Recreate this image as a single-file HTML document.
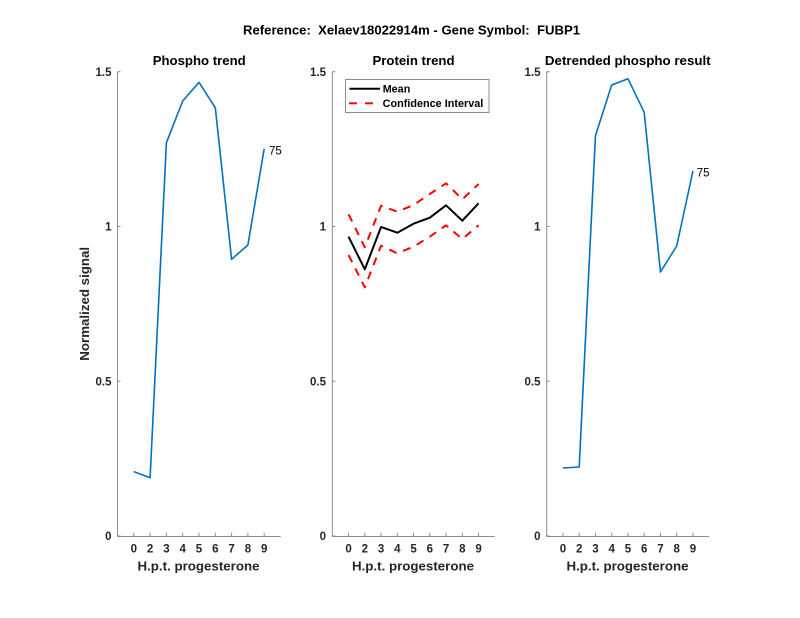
<!DOCTYPE html>
<html>
<head>
<meta charset="utf-8">
<style>
  html,body{margin:0;padding:0;background:#fff;}
  svg{display:block;}
  text{font-family:"Liberation Sans",Arial,sans-serif;}
  .tl{font-size:11.5px;font-weight:bold;fill:#262626;}
  .ttl{font-size:13.2px;font-weight:bold;fill:#000;}
  .xl{font-size:13.3px;font-weight:bold;fill:#262626;}
</style>
</head>
<body>
<svg width="800" height="618" viewBox="0 0 800 618" xmlns="http://www.w3.org/2000/svg">
  <rect width="800" height="618" fill="#fff"/>

  <!-- Main title -->
  <text x="411.5" y="34.5" text-anchor="middle" class="ttl" textLength="337" lengthAdjust="spacingAndGlyphs" xml:space="preserve">Reference:  Xelaev18022914m - Gene Symbol:  FUBP1</text>

  <!-- ============ LEFT PANEL ============ -->
  <g>
    <text x="199.2" y="65" text-anchor="middle" class="ttl" textLength="93" lengthAdjust="spacingAndGlyphs">Phospho trend</text>
    <!-- axes -->
    <path d="M117.5,71.7 V536.5 H280.7" fill="none" stroke="#8c8c8c" stroke-width="1"/>
    <!-- y ticks -->
    <path d="M117.5,536 h3 M117.5,381.2 h3 M117.5,226.5 h3 M117.5,71.7 h3" stroke="#8c8c8c" stroke-width="1"/>
    <!-- x ticks -->
    <path d="M133.8,536 v-3.3 M150.1,536 v-3.3 M166.4,536 v-3.3 M182.7,536 v-3.3 M199,536 v-3.3 M215.3,536 v-3.3 M231.6,536 v-3.3 M247.9,536 v-3.3 M264.2,536 v-3.3" stroke="#8c8c8c" stroke-width="1"/>
    <!-- y tick labels -->
    <text x="111.5" y="540.2" text-anchor="end" class="tl">0</text>
    <text x="111.5" y="385.4" text-anchor="end" class="tl">0.5</text>
    <text x="111.5" y="230.7" text-anchor="end" class="tl">1</text>
    <text x="111.5" y="75.9" text-anchor="end" class="tl">1.5</text>
    <!-- x tick labels -->
    <g class="tl" text-anchor="middle">
      <text x="133.8" y="552.5">0</text><text x="150.1" y="552.5">2</text><text x="166.4" y="552.5">3</text>
      <text x="182.7" y="552.5">4</text><text x="199" y="552.5">5</text><text x="215.3" y="552.5">6</text>
      <text x="231.6" y="552.5">7</text><text x="247.9" y="552.5">8</text><text x="264.2" y="552.5">9</text>
    </g>
    <text x="198.5" y="570.5" text-anchor="middle" class="xl" textLength="122" lengthAdjust="spacingAndGlyphs">H.p.t. progesterone</text>
    <!-- y label -->
    <text transform="translate(88.8,303.8) rotate(-90)" text-anchor="middle" class="xl">Normalized signal</text>
    <!-- series -->
    <polyline fill="none" stroke="#0072BD" stroke-width="1.6" stroke-linejoin="round"
      points="133.8,471.6 150.1,477.7 166.4,142.7 182.7,101 199,82.3 215.3,107.7 231.6,259.3 247.9,245 264.2,148.7"/>
    <text x="269" y="154.5" font-size="11.5" fill="#000">75</text>
  </g>

  <!-- ============ MIDDLE PANEL ============ -->
  <g>
    <text x="413.5" y="65" text-anchor="middle" class="ttl" textLength="82" lengthAdjust="spacingAndGlyphs">Protein trend</text>
    <path d="M332.3,71.7 V536.5 H494.7" fill="none" stroke="#8c8c8c" stroke-width="1"/>
    <path d="M332.3,536 h3 M332.3,381.2 h3 M332.3,226.5 h3 M332.3,71.7 h3" stroke="#8c8c8c" stroke-width="1"/>
    <path d="M348.55,536 v-3.3 M364.8,536 v-3.3 M381.05,536 v-3.3 M397.3,536 v-3.3 M413.55,536 v-3.3 M429.8,536 v-3.3 M446.05,536 v-3.3 M462.3,536 v-3.3 M478.55,536 v-3.3" stroke="#8c8c8c" stroke-width="1"/>
    <text x="326" y="540.2" text-anchor="end" class="tl">0</text>
    <text x="326" y="385.4" text-anchor="end" class="tl">0.5</text>
    <text x="326" y="230.7" text-anchor="end" class="tl">1</text>
    <text x="326" y="75.9" text-anchor="end" class="tl">1.5</text>
    <g class="tl" text-anchor="middle">
      <text x="348.55" y="552.5">0</text><text x="364.8" y="552.5">2</text><text x="381.05" y="552.5">3</text>
      <text x="397.3" y="552.5">4</text><text x="413.55" y="552.5">5</text><text x="429.8" y="552.5">6</text>
      <text x="446.05" y="552.5">7</text><text x="462.3" y="552.5">8</text><text x="478.55" y="552.5">9</text>
    </g>
    <text x="413" y="570.5" text-anchor="middle" class="xl" textLength="122" lengthAdjust="spacingAndGlyphs">H.p.t. progesterone</text>
    <!-- CI -->
    <polyline fill="none" stroke="#FF0000" stroke-width="2" stroke-dasharray="8,7" stroke-linejoin="round"
      points="348.55,214.3 364.8,247.3 381.05,205.7 397.3,211.7 413.55,205 429.8,194 446.05,183.3 462.3,199.3 478.55,184"/>
    <polyline fill="none" stroke="#FF0000" stroke-width="2" stroke-dasharray="8,7" stroke-linejoin="round"
      points="348.55,255 364.8,287.3 381.05,245.7 397.3,253.3 413.55,246.7 429.8,236.7 446.05,225.3 462.3,239 478.55,225.3"/>
    <!-- Mean -->
    <polyline fill="none" stroke="#000" stroke-width="2" stroke-linejoin="round"
      points="348.55,236.7 364.8,269.3 381.05,227 397.3,232.7 413.55,223.7 429.8,217.7 446.05,205.3 462.3,220.7 478.55,203.3"/>
    <!-- Legend -->
    <rect x="345.5" y="79.5" width="143.5" height="33" fill="#fff" stroke="#8c8c8c" stroke-width="1"/>
    <line x1="349.5" y1="88.7" x2="380" y2="88.7" stroke="#000" stroke-width="2"/>
    <line x1="349" y1="103.3" x2="357" y2="103.3" stroke="#FF0000" stroke-width="2"/>
    <line x1="365" y1="103.3" x2="373" y2="103.3" stroke="#FF0000" stroke-width="2"/>
    <text x="382.7" y="92.6" font-size="10.8" font-weight="bold" fill="#000">Mean</text>
    <text x="382.7" y="107.2" font-size="10.8" font-weight="bold" fill="#000" textLength="100.6" lengthAdjust="spacingAndGlyphs">Confidence Interval</text>
  </g>

  <!-- ============ RIGHT PANEL ============ -->
  <g>
    <text x="627.8" y="65" text-anchor="middle" class="ttl" textLength="165.7" lengthAdjust="spacingAndGlyphs">Detrended phospho result</text>
    <path d="M546.7,71.7 V536.5 H709" fill="none" stroke="#8c8c8c" stroke-width="1"/>
    <path d="M546.7,536 h3 M546.7,381.2 h3 M546.7,226.5 h3 M546.7,71.7 h3" stroke="#8c8c8c" stroke-width="1"/>
    <path d="M562.95,536 v-3.3 M579.2,536 v-3.3 M595.45,536 v-3.3 M611.7,536 v-3.3 M627.95,536 v-3.3 M644.2,536 v-3.3 M660.45,536 v-3.3 M676.7,536 v-3.3 M692.95,536 v-3.3" stroke="#8c8c8c" stroke-width="1"/>
    <text x="540.5" y="540.2" text-anchor="end" class="tl">0</text>
    <text x="540.5" y="385.4" text-anchor="end" class="tl">0.5</text>
    <text x="540.5" y="230.7" text-anchor="end" class="tl">1</text>
    <text x="540.5" y="75.9" text-anchor="end" class="tl">1.5</text>
    <g class="tl" text-anchor="middle">
      <text x="562.95" y="552.5">0</text><text x="579.2" y="552.5">2</text><text x="595.45" y="552.5">3</text>
      <text x="611.7" y="552.5">4</text><text x="627.95" y="552.5">5</text><text x="644.2" y="552.5">6</text>
      <text x="660.45" y="552.5">7</text><text x="676.7" y="552.5">8</text><text x="692.95" y="552.5">9</text>
    </g>
    <text x="627.5" y="570.5" text-anchor="middle" class="xl" textLength="122" lengthAdjust="spacingAndGlyphs">H.p.t. progesterone</text>
    <polyline fill="none" stroke="#0072BD" stroke-width="1.6" stroke-linejoin="round"
      points="562.95,468 579.2,467 595.45,135.7 611.7,85 627.95,78.7 644.2,112.3 660.45,272 676.7,246 692.95,171"/>
    <text x="696.7" y="176.3" font-size="11.5" fill="#000">75</text>
  </g>
</svg>
</body>
</html>
